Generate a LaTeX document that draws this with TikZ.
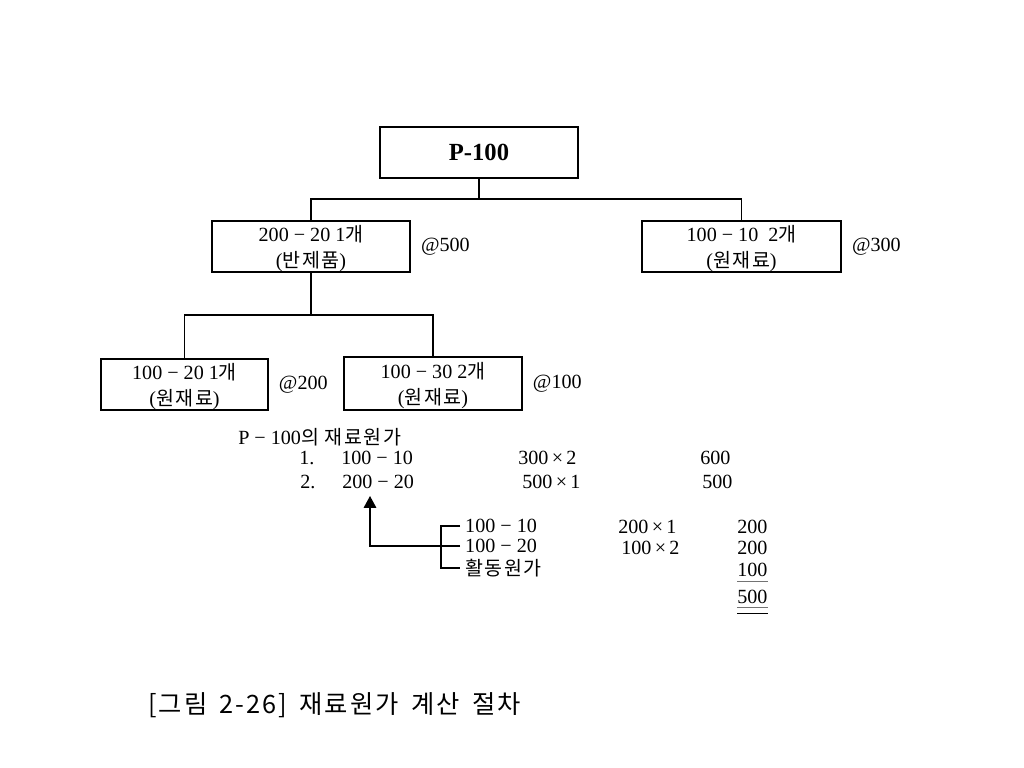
\documentclass[tikz,border=0pt]{standalone}
\usepackage{fontspec}
\setmainfont{Liberation Serif}
\newfontfamily\kr{Noto Sans CJK KR}[Scale=0.97,LetterSpace=8]
\newfontfamily\krcap{Noto Sans CJK KR}[LetterSpace=8,WordSpace=1.6]
\newcommand\tms{\,×\,}
\newcommand\lift{\rule{0pt}{14.5pt}}
\usetikzlibrary{arrows.meta,positioning}
\tikzstyle{part} = [draw, line width=1.2pt, align=center, inner sep=0pt, minimum height=1.275cm, font=\fontsize{14.3}{18}\selectfont]
\tikzstyle{txt} = [inner sep=0pt, anchor=west, font=\fontsize{14.3}{16}\selectfont]
\tikzstyle{item} = [inner xsep=3.5pt, inner ysep=0pt, anchor=west, font=\fontsize{14.3}{16}\selectfont]
\tikzstyle{link} = [line width=0.9pt]

\begin{document}
\begin{tikzpicture}[x=0.025cm,y=-0.025cm]
  \useasboundingbox (0,0) rectangle (1024,768);
  % parts tree
  \node[part, minimum width=4.95cm, font=\fontsize{17.5}{20}\selectfont\bfseries] (top) at (479,152.5) {P-100};
  \node[part, minimum width=4.95cm] (semi) at (311,246.5) {\lift200 − 20 1{\kr 개}\\({\kr 반제품})};
  \node[part, minimum width=4.975cm] (rawR) at (741.5,246.5) {\lift100 − 10 \ 2{\kr 개}\\({\kr 원재료})};
  \node[part, minimum width=4.175cm] (rawA) at (184.5,384.5) {\lift100 − 20 1{\kr 개}\\({\kr 원재료})};
  \node[part, minimum width=4.45cm, minimum height=1.325cm] (rawB) at (433,383.5) {\lift100 − 30 2{\kr 개}\\({\kr 원재료})};
  \node[txt, right=7pt of semi] (pSemi) {@500};
  \node[txt, right=7pt of rawR] (pRawR) {@300};
  \node[txt, right=7pt of rawA] (pRawA) {@200};
  \node[txt, right=7pt of rawB] (pRawB) {@100};
  \coordinate (busA) at (0,199);
  \coordinate (busB) at (0,315);
  \draw[link] (top.south) -- (top.south |- busA);
  \draw[link] (semi.north) |- (rawR.north |- busA) -- (rawR.north);
  \draw[link] (semi.south) -- (semi.south |- busB);
  \draw[link] (rawA.north) |- (rawB.north |- busB) -- (rawB.north);
  % material cost of P-100
  \node[txt] (head) at (238,437) {P − 100{\kr 의 재료원가}};
  \node[txt] (n1) at (299,458) {1.};
  \node[txt] (n1a) at (341,458) {100 − 10};
  \node[txt] (n1b) at (518,458) {300\tms2};
  \node[txt] (n1c) at (700,458) {600};
  \node[txt] (n2) at (300,482) {2.};
  \node[txt] (n2a) at (342,482) {200 − 20};
  \node[txt] (n2b) at (522,482) {500\tms1};
  \node[txt] (n2c) at (702,482) {500};
  % cost of 200-20
  \node[item] (b1) at (460,526) {100 − 10};
  \node[item] (b2) at (460,546) {100 − 20};
  \node[item] (b3) at (460,568) {\kr 활동원가};
  \node[txt] (c1) at (618,527) {200\tms1};
  \node[txt] (c2) at (621,548) {100\tms2};
  \node[txt] (d1) at (737,527) {200};
  \node[txt] (d2) at (737,548) {200};
  \node[txt] (d3) at (737,570) {100};
  \node[txt] (d4) at (737,597) {500};
  \coordinate (brk) at (441,0);
  \coordinate (tip) at (370,496);
  \draw[link] (b1.west) -| (brk |- b3.west) -- (b3.west);
  \draw[link, -{Triangle[length=8.5pt,width=9pt]}] (b2.west) -| (tip);
  \draw[line width=0.8pt, black!55] ([yshift=-3pt]d3.south west) -- ([yshift=-3pt]d3.south east);
  \draw[line width=0.8pt, black!55] ([yshift=-2.3pt]d4.south west) -- ([yshift=-2.3pt]d4.south east);
  \draw[line width=1.2pt] ([yshift=-6.6pt]d4.south west) -- ([yshift=-6.6pt]d4.south east);
  % caption
  \node[inner sep=0pt, anchor=west, font=\fontsize{18}{20}\selectfont\krcap] (cap) at (148,705) {[그림 2-26] 재료원가 계산 절차};
\end{tikzpicture}
\end{document}
